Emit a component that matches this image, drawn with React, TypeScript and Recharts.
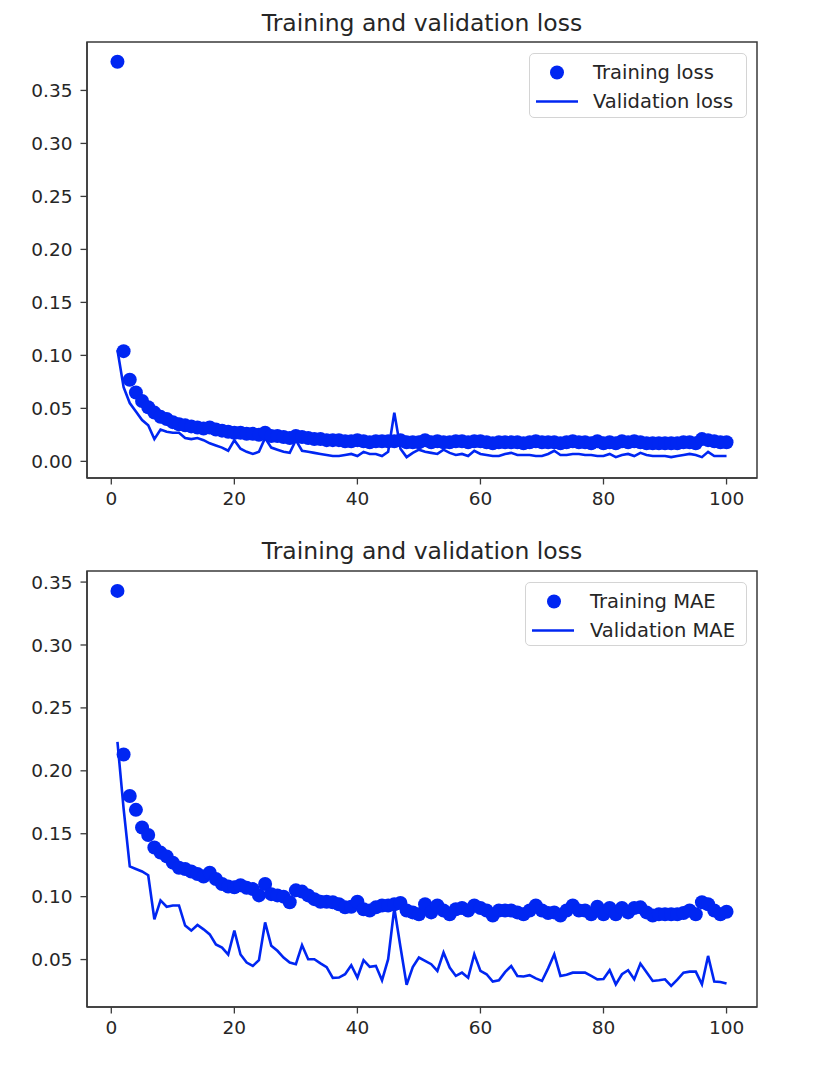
import React from 'react';
import { ComposedChart, Line, XAxis, YAxis, Legend, ReferenceArea } from 'recharts';

const epochs = [
  1, 2, 3, 4, 5, 6, 7, 8, 9, 10,
  11, 12, 13, 14, 15, 16, 17, 18, 19, 20,
  21, 22, 23, 24, 25, 26, 27, 28, 29, 30,
  31, 32, 33, 34, 35, 36, 37, 38, 39, 40,
  41, 42, 43, 44, 45, 46, 47, 48, 49, 50,
  51, 52, 53, 54, 55, 56, 57, 58, 59, 60,
  61, 62, 63, 64, 65, 66, 67, 68, 69, 70,
  71, 72, 73, 74, 75, 76, 77, 78, 79, 80,
  81, 82, 83, 84, 85, 86, 87, 88, 89, 90,
  91, 92, 93, 94, 95, 96, 97, 98, 99, 100,
];

const trainLoss = [
  0.377, 0.104, 0.077, 0.065, 0.057, 0.051, 0.046, 0.042, 0.040, 0.037,
  0.035, 0.034, 0.033, 0.032, 0.031, 0.032, 0.030, 0.029, 0.028, 0.027,
  0.027, 0.026, 0.026, 0.025, 0.027, 0.024, 0.024, 0.023, 0.022, 0.024,
  0.023, 0.022, 0.021, 0.021, 0.020, 0.020, 0.020, 0.019, 0.019, 0.020,
  0.019, 0.018, 0.019, 0.019, 0.019, 0.019, 0.020, 0.018, 0.018, 0.018,
  0.020, 0.018, 0.019, 0.018, 0.018, 0.019, 0.019, 0.018, 0.019, 0.019,
  0.018, 0.017, 0.018, 0.018, 0.018, 0.018, 0.017, 0.018, 0.019, 0.018,
  0.018, 0.018, 0.017, 0.018, 0.019, 0.018, 0.018, 0.017, 0.019, 0.017,
  0.018, 0.017, 0.019, 0.018, 0.019, 0.018, 0.017, 0.017, 0.017, 0.017,
  0.017, 0.017, 0.018, 0.018, 0.017, 0.021, 0.020, 0.019, 0.018, 0.018,
];

const valLoss = [
  0.105, 0.070, 0.055, 0.047, 0.039, 0.034, 0.021, 0.030, 0.028, 0.027,
  0.027, 0.022, 0.021, 0.022, 0.020, 0.017, 0.015, 0.013, 0.010, 0.020,
  0.012, 0.009, 0.007, 0.009, 0.022, 0.013, 0.011, 0.009, 0.008, 0.020,
  0.010, 0.009, 0.008, 0.007, 0.006, 0.005, 0.005, 0.006, 0.007, 0.005,
  0.009, 0.007, 0.007, 0.005, 0.009, 0.046, 0.012, 0.004, 0.008, 0.011,
  0.009, 0.008, 0.007, 0.011, 0.008, 0.006, 0.007, 0.005, 0.010, 0.007,
  0.006, 0.005, 0.005, 0.007, 0.008, 0.006, 0.006, 0.006, 0.005, 0.005,
  0.007, 0.010, 0.006, 0.006, 0.007, 0.007, 0.006, 0.006, 0.005, 0.005,
  0.007, 0.004, 0.006, 0.007, 0.005, 0.008, 0.006, 0.005, 0.005, 0.005,
  0.004, 0.005, 0.006, 0.007, 0.006, 0.004, 0.009, 0.005, 0.005, 0.005,
];

const trainMAE = [
  0.343, 0.213, 0.180, 0.169, 0.155, 0.149, 0.139, 0.135, 0.132, 0.127,
  0.123, 0.122, 0.120, 0.118, 0.116, 0.119, 0.114, 0.110, 0.108, 0.1075,
  0.109, 0.107, 0.106, 0.101, 0.110, 0.102, 0.101, 0.100, 0.0955, 0.105,
  0.104, 0.101, 0.098, 0.096, 0.096, 0.0955, 0.094, 0.0915, 0.092, 0.096,
  0.090, 0.089, 0.0915, 0.093, 0.093, 0.094, 0.095, 0.089, 0.0875, 0.086,
  0.094, 0.0875, 0.093, 0.089, 0.086, 0.090, 0.091, 0.089, 0.093, 0.091,
  0.089, 0.085, 0.089, 0.089, 0.089, 0.0875, 0.086, 0.089, 0.093, 0.089,
  0.087, 0.0875, 0.085, 0.089, 0.093, 0.089, 0.089, 0.086, 0.092, 0.086,
  0.091, 0.086, 0.091, 0.0875, 0.091, 0.0915, 0.0875, 0.085, 0.086, 0.086,
  0.086, 0.086, 0.087, 0.089, 0.086, 0.0955, 0.094, 0.089, 0.086, 0.088,
];

const valMAE = [
  0.223, 0.170, 0.124, 0.122, 0.120, 0.117, 0.082, 0.097, 0.092, 0.093,
  0.093, 0.077, 0.073, 0.0775, 0.074, 0.070, 0.062, 0.0595, 0.054, 0.073,
  0.054, 0.0476, 0.045, 0.0495, 0.0795, 0.061, 0.057, 0.0516, 0.0476, 0.0463,
  0.0614, 0.0503, 0.0503, 0.047, 0.044, 0.0355, 0.0357, 0.0384, 0.0455, 0.0357,
  0.0495, 0.0442, 0.045, 0.0335, 0.0503, 0.091, 0.060, 0.030, 0.044, 0.0516,
  0.049, 0.0463, 0.041, 0.0556, 0.0436, 0.037, 0.0396, 0.0356, 0.0542, 0.041,
  0.0383, 0.0325, 0.0335, 0.040, 0.0449, 0.037, 0.0365, 0.0376, 0.035, 0.033,
  0.043, 0.0542, 0.037, 0.038, 0.0396, 0.0396, 0.0396, 0.037, 0.0343, 0.0345,
  0.0415, 0.0303, 0.0383, 0.0415, 0.0343, 0.0468, 0.040, 0.033, 0.0335, 0.0343,
  0.029, 0.034, 0.0396, 0.0404, 0.0404, 0.0303, 0.0529, 0.0325, 0.0322, 0.0309,
];

const xTicks = [0, 20, 40, 60, 80, 100];
const lossTicks = [0, 0.05, 0.1, 0.15, 0.2, 0.25, 0.3, 0.35];
const maeTicks = [0.05, 0.1, 0.15, 0.2, 0.25, 0.3, 0.35];
const lossLegend = ['Training loss', 'Validation loss'];
const maeLegend = ['Training MAE', 'Validation MAE'];
const titles = ['Training and validation loss', 'Training and validation loss'];

const lossData = epochs.map((e, i) => ({ epoch: e, train: trainLoss[i], val: valLoss[i] }));
const maeData = epochs.map((e, i) => ({ epoch: e, train: trainMAE[i], val: valMAE[i] }));

const BLUE = '#0026f2';
const SPINE = '#3a3a3a';
const TEXT = '#262626';
const FONT = '"DejaVu Sans", sans-serif';
const X_DOMAIN: [number, number] = [-3.95, 104.95];
const DOT_R = 7;

const renderDot = (p: any) => (
  <circle key={`dot-${p.index}`} cx={p.cx} cy={p.cy} r={DOT_R} fill={BLUE} stroke="none" />
);

function makeLegend(labels: string[], w: number, h: number, lineL: number, lineR: number, textL: number, dotX: number) {
  return () => (
    <div
      style={{
        width: w,
        height: h,
        boxSizing: 'border-box',
        border: '1.3px solid #d4d4d4',
        borderRadius: 5,
        background: 'rgba(255,255,255,0.85)',
        fontFamily: FONT,
        fontSize: 19.5,
        color: TEXT,
        position: 'relative',
      }}
    >
      {labels.map((lab, i) => (
        <div
          key={lab}
          style={{ position: 'absolute', left: 0, top: 4 + i * 29, height: 29, width: w, lineHeight: '29px' }}
        >
          <svg width={w} height={29} style={{ position: 'absolute', left: 0, top: 0 }}>
            {i === 0 ? (
              <circle cx={dotX} cy={14.5} r={DOT_R} fill={BLUE} />
            ) : (
              <line x1={lineL} x2={lineR} y1={14.5} y2={14.5} stroke={BLUE} strokeWidth={2.6} />
            )}
          </svg>
          <span style={{ position: 'absolute', left: textL, top: 0, whiteSpace: 'nowrap' }}>{lab}</span>
        </div>
      ))}
    </div>
  );
}

type PanelProps = {
  top: number;
  height: number;
  margin: { top: number; right: number; bottom: number; left: number };
  data: any[];
  yDomain: [number, number];
  yTicks: number[];
  title: string;
  titleTop: number;
  legend: () => React.ReactElement;
  legendPos: { left: number; top: number; width: number; height: number };
};

function Panel(props: PanelProps) {
  const { top, height, margin, data, yDomain, yTicks, title, titleTop, legend, legendPos } = props;
  const tickStyle = { fill: TEXT, fontSize: 18.5, fontFamily: FONT };
  return (
    <div style={{ position: 'absolute', left: 0, top, width: 814, height }}>
      <div
        style={{
          position: 'absolute',
          left: 87,
          width: 670,
          top: titleTop,
          textAlign: 'center',
          fontFamily: FONT,
          fontSize: 23.5,
          lineHeight: 1,
          color: TEXT,
          whiteSpace: 'nowrap',
        }}
      >
        {title}
      </div>
      <ComposedChart width={814} height={height} data={data} margin={margin}>
        <XAxis
          dataKey="epoch"
          type="number"
          domain={X_DOMAIN}
          allowDataOverflow
          ticks={xTicks}
          interval={0}
          stroke={SPINE}
          axisLine={{ stroke: SPINE, strokeWidth: 1.5 }}
          tickLine={{ stroke: SPINE, strokeWidth: 1.3 }}
          tickSize={6.5}
          tickMargin={7}
          tick={tickStyle}
          height={40}
        />
        <YAxis
          type="number"
          domain={yDomain}
          allowDataOverflow
          ticks={yTicks}
          interval={0}
          tickFormatter={(v: number) => v.toFixed(2)}
          stroke={SPINE}
          axisLine={{ stroke: SPINE, strokeWidth: 1.5 }}
          tickLine={{ stroke: SPINE, strokeWidth: 1.3 }}
          tickSize={6.5}
          tickMargin={8}
          tick={tickStyle}
          width={80}
        />
        <ReferenceArea
          x1={X_DOMAIN[0]}
          x2={X_DOMAIN[1]}
          y1={yDomain[0]}
          y2={yDomain[1]}
          fill="none"
          fillOpacity={0}
          stroke={SPINE}
          strokeWidth={1.5}
          ifOverflow="visible"
        />
        <Legend
          layout="vertical"
          verticalAlign="middle"
          align="center"
          content={legend}
          wrapperStyle={{
            position: 'absolute',
            left: legendPos.left,
            top: legendPos.top,
            width: legendPos.width,
            height: legendPos.height,
            margin: 0,
          }}
        />
        <Line
          dataKey="train"
          type="linear"
          stroke="none"
          dot={renderDot}
          activeDot={false}
          isAnimationActive={false}
        />
        <Line
          dataKey="val"
          type="linear"
          stroke={BLUE}
          strokeWidth={2.6}
          dot={false}
          activeDot={false}
          isAnimationActive={false}
        />
      </ComposedChart>
    </div>
  );
}

export default function App() {
  return (
    <div style={{ position: 'absolute', left: 0, top: 0, width: 814, height: 1066, background: '#fff', overflow: 'hidden' }}>
      <Panel
        top={0}
        height={530}
        margin={{ top: 42, right: 57, bottom: 12, left: 7 }}
        data={lossData}
        yDomain={[-0.0157, 0.3957]}
        yTicks={lossTicks}
        title={titles[0]}
        titleTop={12}
        legend={makeLegend(lossLegend, 218, 65, 6, 48, 63, 27)}
        legendPos={{ left: 529, top: 53, width: 218, height: 65 }}
      />
      <Panel
        top={530}
        height={536}
        margin={{ top: 41, right: 57, bottom: 19, left: 7 }}
        data={maeData}
        yDomain={[0.0123, 0.3588]}
        yTicks={maeTicks}
        title={titles[1]}
        titleTop={9.5}
        legend={makeLegend(maeLegend, 222, 64, 6, 48, 64, 28)}
        legendPos={{ left: 525, top: 51.5, width: 222, height: 64 }}
      />
    </div>
  );
}
